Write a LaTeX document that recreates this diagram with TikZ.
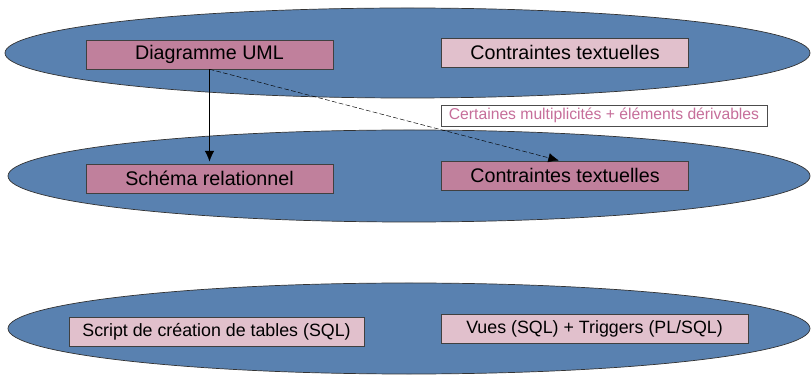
\documentclass[tikz,border=0pt]{standalone}
\usepackage{fontspec}
\setmainfont{Liberation Sans}
\usepackage{tikz}
\usetikzlibrary{arrows.meta,positioning,shapes.geometric}
\definecolor{levelblue}{HTML}{5981B0}
\definecolor{darkmauve}{HTML}{C0809C}
\definecolor{lightmauve}{HTML}{E1C0CC}
\definecolor{notepink}{HTML}{C66E9A}

\begin{document}
\begin{tikzpicture}[>={Latex[length=9pt,width=8pt]}, x=0.03cm, y=-0.03cm]
        \tikzset{level/.style= {draw=black!80, ellipse, fill=levelblue, line width=0.6pt},
        dblock/.style={draw=black!75, rectangle, fill=darkmauve, minimum width=7.41cm, minimum height=0.87cm, font=\fontsize{16.8}{19}\selectfont},
        lblock/.style={dblock, fill=lightmauve},
        sqlblock/.style={lblock, font=\fontsize{15.2}{18}\selectfont},
        note/.style={draw=black!70, fill=white, rectangle, minimum width=9.78cm, minimum height=0.63cm, inner sep=0pt, font=\fontsize{13.4}{15}\selectfont, text=notepink}
        }
        \useasboundingbox (0,0) rectangle (811,376);
        % three levels
        \node [level, minimum width=24.15cm, minimum height=2.7cm] (conc) at (407.5,53) {};
        \node [level, minimum width=24.06cm, minimum height=2.76cm] (logi) at (409,176) {};
        \node [level, minimum width=24.06cm, minimum height=2.73cm] (phys) at (409,328.5) {};
        % blocks
        \node [dblock] (uml) at (209.5,54.5) {Diagramme UML};
        \node [lblock] (ct1) at (565,52.5) {Contraintes textuelles};
        \node [dblock] (schema) at (209.5,178.5) {Schéma relationnel};
        \node [dblock] (ct2) at (565,175.5) {Contraintes textuelles};
        \node [sqlblock, minimum width=8.85cm] (script) at (216.5,331.5) {Script de création de tables (SQL)};
        \node [sqlblock, minimum width=9.21cm] (vues) at (594.5,328.5) {Vues (SQL) + Triggers (PL/SQL)};
        \node [note] (multi) at (604,115.5) {Certaines multiplicités + éléments dérivables};
%% paths
        \path[draw,->,shorten >=2pt] (uml) edge (schema);
        \draw[->, dash pattern=on 4pt off 2pt, shorten >=1pt] (uml.south) -- ([xshift=-0.15cm]ct2.north);
    \end{tikzpicture}
\end{document}
